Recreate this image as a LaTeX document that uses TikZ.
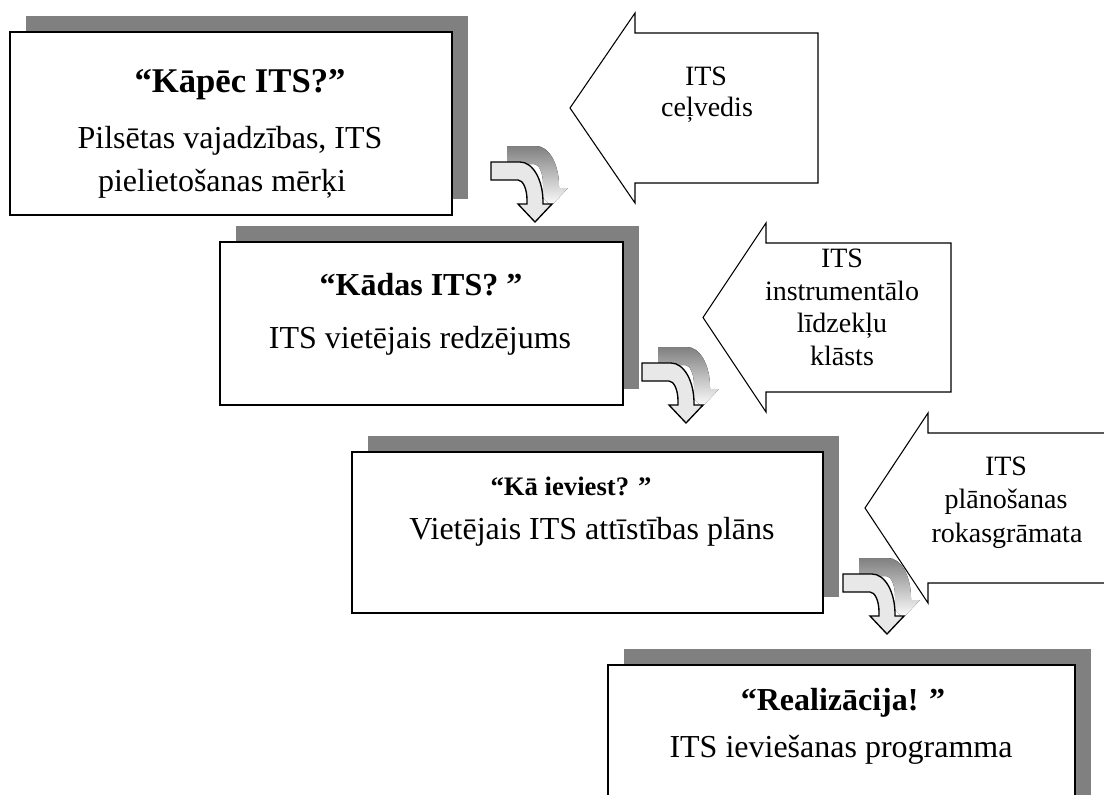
\documentclass[tikz,border=0pt]{standalone}
\usepackage{fontspec}
\setmainfont{Liberation Serif}
\definecolor{shade}{HTML}{808080}
\definecolor{lightfill}{HTML}{E8E8E8}
\tikzset{
  boxshadow/.style={fill=shade, draw=none},
  stepbox/.style={fill=white, draw=black, line width=1.3pt},
  titletext/.style={font=\fontsize{24}{29}\selectfont\bfseries, anchor=base, inner sep=0pt},
  bodytext/.style={font=\fontsize{24}{29}\selectfont, anchor=base, inner sep=0pt},
  sidetext/.style={font=\fontsize{21}{25}\selectfont, anchor=base, inner sep=0pt},
  bigarrow/.style={fill=white, draw=black, line width=0.8pt, line join=miter},
  carrowfill/.style={fill=lightfill, draw=black, line width=1pt, line join=miter},
  carrow/.pic={
    \begin{scope}[shift={(16,-16)}]
      \fill[shade] (0,0) -- (29,0) .. controls (42,0) and (52,18) .. (52,40) -- (52,42) -- (61,42) -- (44,60) -- (27,42) -- (36,42) -- (36,38) .. controls (36,27) and (32,18) .. (27,18) -- (0,18) -- cycle;
    \end{scope}
    \filldraw[carrowfill] (0,0) -- (29,0) .. controls (42,0) and (52,18) .. (52,40) -- (52,42) -- (61,42) -- (44,60) -- (27,42) -- (36,42) -- (36,38) .. controls (36,27) and (32,18) .. (27,18) -- (0,18) -- cycle;
  }
}
\begin{document}
\begin{tikzpicture}[x=0.75pt,y=-0.75pt]
\useasboundingbox (0,0) rectangle (1104,794);
\clip (0,0) rectangle (1104,794);

% side arrows
\filldraw[bigarrow] (570,108) -- (635,13) -- (635,33) -- (818,33) -- (818,183) -- (635,183) -- (635,203) -- cycle;
\filldraw[bigarrow] (703,317.5) -- (766,223) -- (766,243) -- (951,243) -- (951,392) -- (766,392) -- (766,412) -- cycle;
\filldraw[bigarrow] (865,508) -- (928,413) -- (928,433) -- (1130,433) -- (1130,583) -- (928,583) -- (928,603) -- cycle;

\node[sidetext] (a1l1) at (706,85) {ITS};
\node[sidetext] (a1l2) at (707,116) {ceļvedis};
\node[sidetext] (a2l1) at (842,267) {ITS};
\node[sidetext] (a2l2) at (842,300) {instrumentālo};
\node[sidetext] (a2l3) at (842,332) {līdzekļu};
\node[sidetext] (a2l4) at (842,365) {klāsts};
\node[sidetext] (a3l1) at (1006,475) {ITS};
\node[sidetext] (a3l2) at (1006,508) {plānošanas};
\node[sidetext] (a3l3) at (1007,542) {rokasgrāmata};

% box 1
\fill[boxshadow] (26,16) rectangle (468,199);
\draw[stepbox] (10,32) rectangle (452,215);
\node[titletext, font=\fontsize{26}{31}\selectfont\bfseries] (b1t) at (240,92) {“Kāpēc ITS?”};
\node[bodytext] (b1a) at (230,148) {Pilsētas vajadzības, ITS};
\node[bodytext] (b1b) at (222,191) {pielietošanas mērķi};

% box 2
\fill[boxshadow] (236,226) rectangle (639,389);
\draw[stepbox] (220,242) rectangle (623,405);
\node[titletext] (b2t) at (421,295) {“Kādas ITS? ”};
\node[bodytext] (b2a) at (420,348) {ITS vietējais redzējums};

% box 3
\fill[boxshadow] (368,436) rectangle (839,597);
\draw[stepbox] (352,452) rectangle (823,613);
\node[titletext, font=\fontsize{20}{24}\selectfont\bfseries] (b3t) at (571,495) {“Kā ieviest? ”};
\node[bodytext] (b3a) at (592,539) {Vietējais ITS attīstības plāns};

% box 4
\fill[boxshadow] (624,649) rectangle (1091,820);
\draw[stepbox] (608,665) rectangle (1075,836);
\node[titletext] (b4t) at (843,710) {“Realizācija! ”};
\node[bodytext] (b4a) at (841,757) {ITS ieviešanas programma};

% curved arrows
\pic (ca1) at (491,162) {carrow};
\pic (ca2) at (642,363) {carrow};
\pic (ca3) at (843,574) {carrow};
\end{tikzpicture}
\end{document}
